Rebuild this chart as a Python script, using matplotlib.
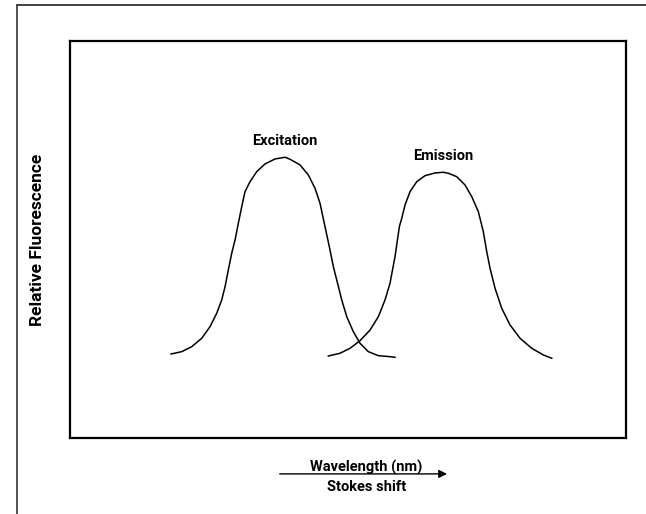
"""Excitation / emission spectra sketch illustrating the Stokes shift."""
import matplotlib

matplotlib.use("Agg")
import matplotlib.pyplot as plt
from matplotlib.lines import Line2D

# wavelength (arbitrary units, 0-100 across the plot) and relative fluorescence
excitation_x = [18.17, 20.09, 21.89, 23.69, 25.18, 26.38, 27.28, 27.88, 28.47,
                29.08, 29.68, 30.27, 30.88, 31.47, 32.37, 33.58, 35.07, 36.87,
                38.67, 39.57, 41.37, 42.86, 44.06, 44.96, 45.86, 46.76, 47.36,
                47.97, 48.87, 49.77, 50.95, 52.16, 53.65, 55.45, 57.55, 58.45]
excitation_y = [21.16, 21.74, 23.00, 25.11, 28.04, 31.41, 34.76, 38.11, 42.32,
                46.52, 49.87, 54.08, 58.26, 62.04, 64.56, 67.08, 69.02, 70.28,
                70.71, 70.20, 68.77, 66.25, 62.90, 59.12, 53.22, 47.36, 43.15,
                39.80, 34.76, 30.55, 26.78, 23.85, 21.74, 20.73, 20.48, 20.33]

emission_x = [46.46, 48.56, 50.36, 52.16, 53.96, 55.45, 56.65, 57.55, 58.45,
              59.23, 59.66, 60.25, 61.15, 62.36, 63.85, 65.65, 67.09, 68.04,
              69.55, 71.04, 72.25, 73.44, 74.33, 74.95, 75.54, 76.44, 77.64,
              79.14, 80.94, 83.04, 85.13, 86.64]
emission_y = [20.65, 21.34, 22.59, 24.51, 27.20, 30.55, 34.76, 38.97, 45.67,
              53.22, 55.34, 58.69, 62.04, 64.56, 66.07, 66.75, 66.93, 66.68,
              65.82, 63.73, 60.78, 57.00, 51.96, 46.93, 42.75, 37.71, 32.67,
              28.46, 25.11, 22.59, 20.91, 20.08]

curve_labels = ["Excitation", "Emission"]
x_label = "Wavelength (nm)"
x_sublabel = "Stokes shift"
y_label = "Relative Fluorescence"

FONT = ["Liberation Sans Narrow", "Roboto", "DejaVu Sans"]

fig = plt.figure(figsize=(6.46, 5.14), dpi=100)
ax = fig.add_axes([0.1084, 0.1479, 0.8607, 0.7724])
ax.set_xlim(0, 100)
ax.set_ylim(0, 100)
ax.set_xticks([])
ax.set_yticks([])
for spine in ax.spines.values():
    spine.set_linewidth(1.6)

ax.plot(excitation_x, excitation_y, color="black", lw=1.1)
ax.plot(emission_x, emission_y, color="black", lw=1.1)

# peak labels sit just above each curve's maximum
for xs, ys, label in [(excitation_x, excitation_y, curve_labels[0]),
                      (emission_x, emission_y, curve_labels[1])]:
    i = ys.index(max(ys))
    ax.annotate(label, (xs[i], ys[i]), xytext=(0, 7), textcoords="offset points",
                ha="center", va="bottom", fontsize=10.5, fontweight="bold",
                family=FONT)

fig.text(0.058, 0.533, y_label, rotation=90, ha="center", va="center",
         fontsize=12.5, fontweight="bold", family=FONT)

# arrow under the axes with labels above/below it
fig.text(0.567, 0.091, x_label, ha="center", va="center",
         fontsize=10.5, fontweight="bold", family=FONT)
fig.text(0.567, 0.052, x_sublabel, ha="center", va="center",
         fontsize=10.5, fontweight="bold", family=FONT)
ax.annotate("", xy=(0.692, 0.078), xytext=(0.433, 0.078),
            xycoords="figure fraction", textcoords="figure fraction",
            arrowprops=dict(arrowstyle="-|>", color="black", lw=1.0,
                            mutation_scale=12, shrinkA=0, shrinkB=0))

# outer frame, cropped at the right and bottom edges
fig.add_artist(Line2D([0.026, 1.0], [0.990, 0.990], color="#333333", lw=1.3,
                      transform=fig.transFigure))
fig.add_artist(Line2D([0.026, 0.026], [0.0, 0.990], color="#444444", lw=1.3,
                      transform=fig.transFigure))

fig.savefig("out.png", dpi=100)
